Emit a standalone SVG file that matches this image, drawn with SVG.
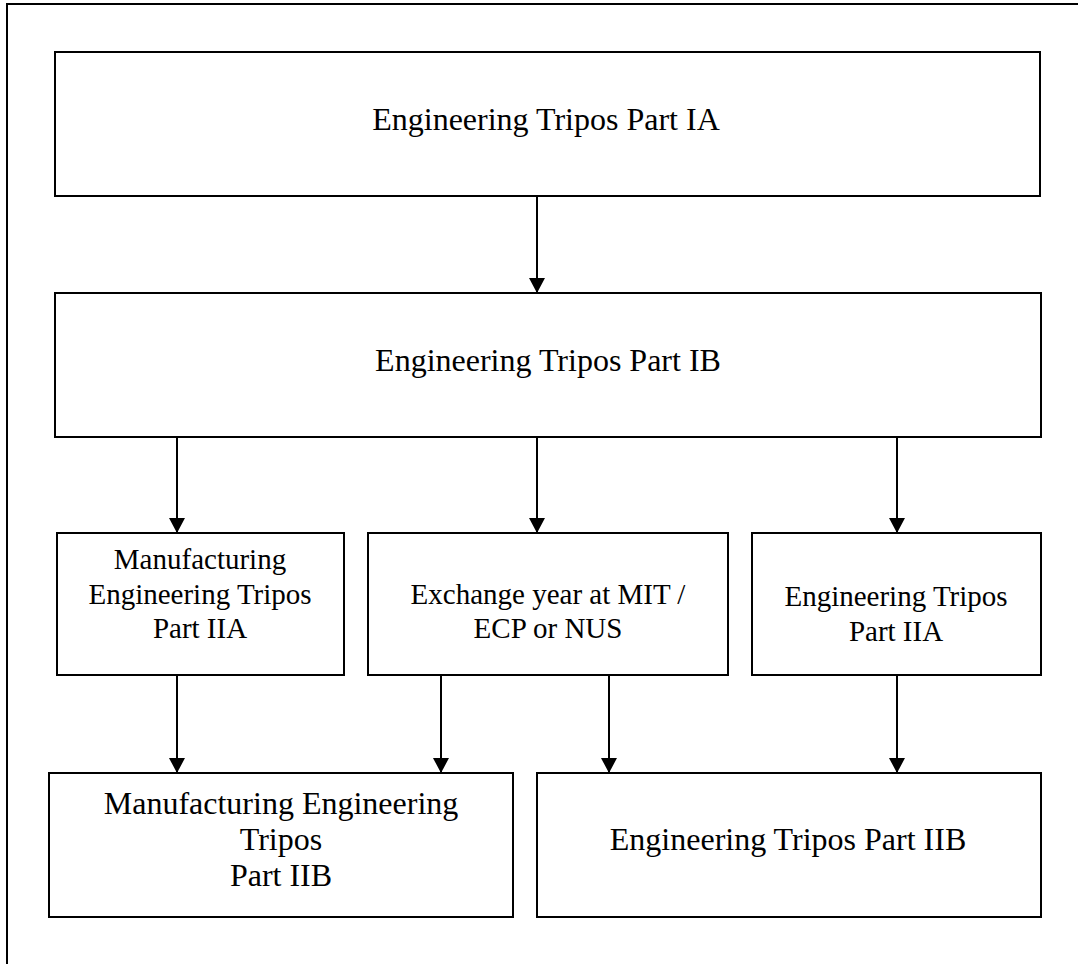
<svg xmlns="http://www.w3.org/2000/svg" width="1078" height="964" viewBox="0 0 1078 964">
<style>
.box{fill:#fff;stroke:#000;stroke-width:2}
.lbl{font-family:"Liberation Serif","Times New Roman",serif;fill:#000;text-anchor:middle}
.big{font-size:32px}
.mid{font-size:29px}
.conn line{stroke:#000;stroke-width:2}
</style>
<defs>
<marker id="ah" viewBox="0 0 15 16" refX="15" refY="8" markerWidth="15" markerHeight="16" markerUnits="userSpaceOnUse" orient="auto">
<path d="M0,0 L15,8 L0,16 z" fill="#000"/>
</marker>
</defs>
<rect x="0" y="0" width="1078" height="964" fill="#fff"/>
<g id="frame">
<line x1="6" y1="4" x2="1078" y2="4" stroke="#000" stroke-width="2"/>
<line x1="7" y1="3" x2="7" y2="964" stroke="#000" stroke-width="2"/>
</g>
<g id="part-ia">
<rect class="box" x="55" y="52" width="985" height="144"/>
<text class="lbl big" x="546" y="130">Engineering Tripos Part IA</text>
</g>
<g id="part-ib">
<rect class="box" x="55" y="293" width="986" height="144"/>
<text class="lbl big" x="548" y="371">Engineering Tripos Part IB</text>
</g>
<g id="met-iia">
<rect class="box" x="57" y="533" width="287" height="142"/>
<text class="lbl mid" x="200" y="569">Manufacturing</text>
<text class="lbl mid" x="200" y="604">Engineering Tripos</text>
<text class="lbl mid" x="200" y="638">Part IIA</text>
</g>
<g id="exchange">
<rect class="box" x="368" y="533" width="360" height="142"/>
<text class="lbl mid" x="548" y="604">Exchange year at MIT /</text>
<text class="lbl mid" x="548" y="638">ECP or NUS</text>
</g>
<g id="et-iia">
<rect class="box" x="752" y="533" width="289" height="142"/>
<text class="lbl mid" x="896" y="606">Engineering Tripos</text>
<text class="lbl mid" x="896" y="641">Part IIA</text>
</g>
<g id="met-iib">
<rect class="box" x="49" y="773" width="464" height="144"/>
<text class="lbl big" x="281" y="814">Manufacturing Engineering</text>
<text class="lbl big" x="281" y="850">Tripos</text>
<text class="lbl big" x="281" y="886">Part IIB</text>
</g>
<g id="et-iib">
<rect class="box" x="537" y="773" width="504" height="144"/>
<text class="lbl big" x="788" y="850">Engineering Tripos Part IIB</text>
</g>
<g id="connectors" class="conn">
<line x1="537" y1="196" x2="537" y2="293" marker-end="url(#ah)"/>
<line x1="177" y1="437" x2="177" y2="533" marker-end="url(#ah)"/>
<line x1="537" y1="437" x2="537" y2="533" marker-end="url(#ah)"/>
<line x1="897" y1="437" x2="897" y2="533" marker-end="url(#ah)"/>
<line x1="177" y1="675" x2="177" y2="773" marker-end="url(#ah)"/>
<line x1="441" y1="675" x2="441" y2="773" marker-end="url(#ah)"/>
<line x1="609" y1="675" x2="609" y2="773" marker-end="url(#ah)"/>
<line x1="897" y1="675" x2="897" y2="773" marker-end="url(#ah)"/>
</g>
</svg>
